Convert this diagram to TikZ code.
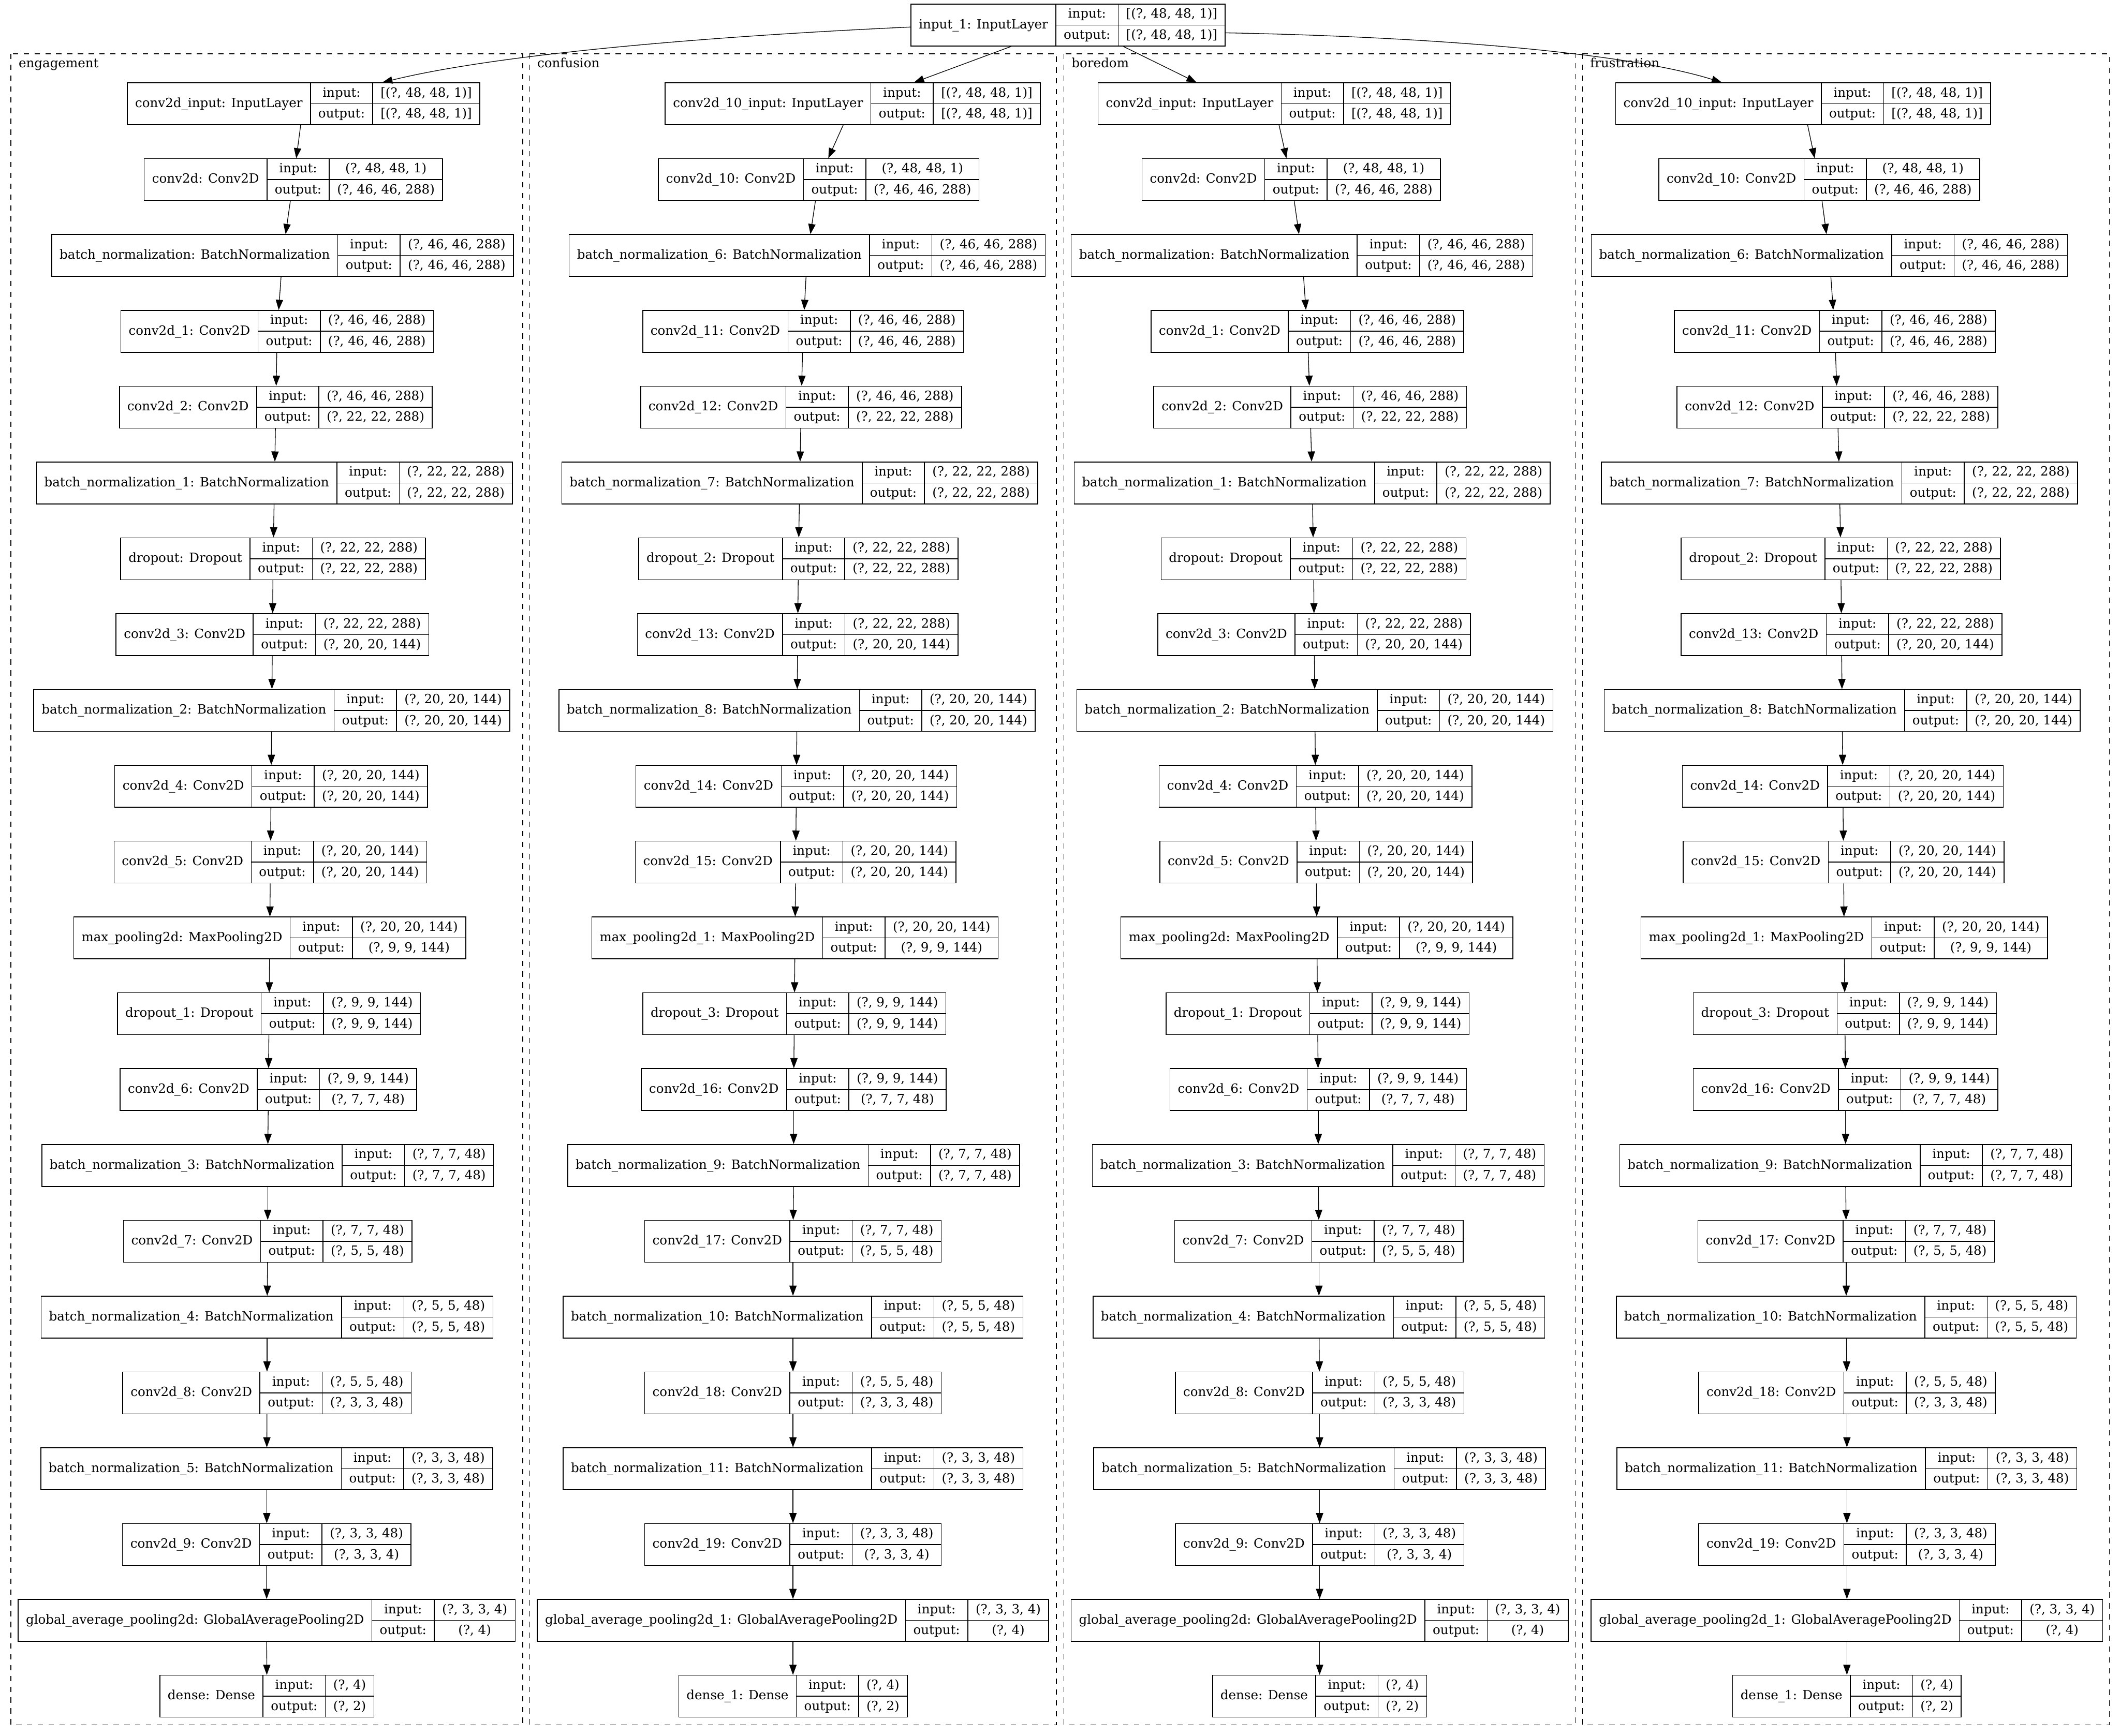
\documentclass[tikz,border=0pt]{standalone}
\usepackage{fontspec}
\setmainfont{DejaVu Serif}
\usetikzlibrary{arrows.meta}
\newlength\recwa \newlength\recwb \newlength\recwc \newlength\recwt
\newcommand\recfont{\fontsize{9.4pt}{11pt}\selectfont}
\def\recpad{5.8}
\newcommand\shpin[1]{\ifcase#1\relax [(?, 48, 48, 1)]\or (?, 48, 48, 1)\or (?, 46, 46, 288)\or (?, 46, 46, 288)\or (?, 46, 46, 288)\or (?, 22, 22, 288)\or (?, 22, 22, 288)\or (?, 22, 22, 288)\or (?, 20, 20, 144)\or (?, 20, 20, 144)\or (?, 20, 20, 144)\or (?, 20, 20, 144)\or (?, 9, 9, 144)\or (?, 9, 9, 144)\or (?, 7, 7, 48)\or (?, 7, 7, 48)\or (?, 5, 5, 48)\or (?, 5, 5, 48)\or (?, 3, 3, 48)\or (?, 3, 3, 48)\or (?, 3, 3, 4)\or (?, 4)\fi}
\newcommand\shpout[1]{\ifcase#1\relax [(?, 48, 48, 1)]\or (?, 46, 46, 288)\or (?, 46, 46, 288)\or (?, 46, 46, 288)\or (?, 22, 22, 288)\or (?, 22, 22, 288)\or (?, 22, 22, 288)\or (?, 20, 20, 144)\or (?, 20, 20, 144)\or (?, 20, 20, 144)\or (?, 20, 20, 144)\or (?, 9, 9, 144)\or (?, 9, 9, 144)\or (?, 7, 7, 48)\or (?, 7, 7, 48)\or (?, 5, 5, 48)\or (?, 5, 5, 48)\or (?, 3, 3, 48)\or (?, 3, 3, 48)\or (?, 3, 3, 4)\or (?, 4)\or (?, 2)\fi}
\tikzset{
  recbox/.style={draw, line width=0.6pt, minimum height=31pt, inner sep=0pt},
  recline/.style={line width=0.6pt},
  rectxt/.style={anchor=base, inner sep=0pt, font=\recfont},
  edge/.style={line width=0.5pt, -{Triangle[length=7.5pt,width=5.4pt]}},
  cluster/.style={line width=0.55pt, dash pattern=on 4pt off 4pt},
  clabel/.style={anchor=base west, inner sep=0pt, font=\recfont}
}
\newcommand\rec[6]{%
 \pgfinterruptpicture
  \settowidth\recwa{\recfont #4}\global\recwa=\recwa
  \settowidth\recwb{\recfont output:}\global\recwb=\recwb
  \settowidth\recwc{\recfont #5}%
  \settowidth\recwt{\recfont #6}%
  \ifdim\recwt>\recwc \recwc=\recwt\fi
  \global\recwc=\recwc
 \endpgfinterruptpicture
 \pgfmathsetmacro\recA{\recwa+2*\recpad}%
 \pgfmathsetmacro\recB{\recwb+2*\recpad}%
 \pgfmathsetmacro\recC{\recwc+2*\recpad}%
 \pgfmathsetmacro\recW{\recA+\recB+\recC}%
 \pgfmathsetmacro\recL{#2-\recW/2}%
 \pgfmathsetmacro\recXa{\recL+\recA}%
 \pgfmathsetmacro\recXb{\recXa+\recB}%
 \pgfmathsetmacro\recR{\recL+\recW}%
 \node[recbox, minimum width=\recW pt] (#1) at (#2,#3) {};
 \draw[recline] (\recXa,#3-15.5) -- (\recXa,#3+15.5);
 \draw[recline] (\recXb,#3-15.5) -- (\recXb,#3+15.5);
 \draw[recline] (\recXa,#3) -- (\recR,#3);
 \node[rectxt] at ({(\recL+\recXa)/2},#3+2.6) {#4};
 \node[rectxt] at ({(\recXa+\recXb)/2},#3-5.15) {input:};
 \node[rectxt] at ({(\recXa+\recXb)/2},#3+10.35) {output:};
 \node[rectxt] at ({(\recXb+\recR)/2},#3-5.15) {#5};
 \node[rectxt] at ({(\recXb+\recR)/2},#3+10.35) {#6};
}
\begin{document}
\begin{tikzpicture}[x=1pt,y=-1pt]
\fill[white] (0,0) rectangle (1568,1284.1);
\useasboundingbox (0,0) rectangle (1568,1284.1);
% clusters
\draw[cluster] (8.1,39.8) rectangle (386.6,1276);
\draw[cluster] (391.7,39.8) rectangle (781.3,1276);
\draw[cluster] (786.9,39.8) rectangle (1165.4,1276);
\draw[cluster] (1170.4,39.8) rectangle (1560.2,1276);
\node[clabel] (le) at (13.6,50) {engagement};
\node[clabel] (lc) at (397.2,50) {confusion};
\node[clabel] (lb) at (792.4,50) {boredom};
\node[clabel] (lf) at (1175.9,50) {frustration};
% top node
\rec{in1}{790}{18.5}{input\_1: InputLayer}{[(?, 48, 48, 1)]}{[(?, 48, 48, 1)]}
% engagement + boredom
\foreach \i/\ce/\cb/\lbl in {
 0/224.5/942.5/{conv2d\_input: InputLayer},
 1/217/955/{conv2d: Conv2D},
 2/209/963/{batch\_normalization: BatchNormalization},
 3/205/967/{conv2d\_1: Conv2D},
 4/204/969/{conv2d\_2: Conv2D},
 5/203/970.5/{batch\_normalization\_1: BatchNormalization},
 6/202/971.5/{dropout: Dropout},
 7/201.5/972/{conv2d\_3: Conv2D},
 8/201/972.5/{batch\_normalization\_2: BatchNormalization},
 9/200.5/973/{conv2d\_4: Conv2D},
 10/200/973.5/{conv2d\_5: Conv2D},
 11/199.5/974/{max\_pooling2d: MaxPooling2D},
 12/199/974.5/{dropout\_1: Dropout},
 13/198.5/975/{conv2d\_6: Conv2D},
 14/198/975/{batch\_normalization\_3: BatchNormalization},
 15/198/975.5/{conv2d\_7: Conv2D},
 16/197.5/975.5/{batch\_normalization\_4: BatchNormalization},
 17/197.5/976/{conv2d\_8: Conv2D},
 18/197.3/976/{batch\_normalization\_5: BatchNormalization},
 19/197.3/976/{conv2d\_9: Conv2D},
 20/197.2/976/{global\_average\_pooling2d: GlobalAveragePooling2D},
 21/197.4/976/{dense: Dense}}{
 \pgfmathsetmacro\cy{76.8+56.1*\i}
 \rec{e\i}{\ce}{\cy}{\lbl}{\shpin{\i}}{\shpout{\i}}
 \rec{b\i}{\cb}{\cy}{\lbl}{\shpin{\i}}{\shpout{\i}}
}
% confusion + frustration
\foreach \i/\cc/\cf/\lbl in {
 0/630.7/1333.6/{conv2d\_10\_input: InputLayer},
 1/605.5/1345.5/{conv2d\_10: Conv2D},
 2/597/1353/{batch\_normalization\_6: BatchNormalization},
 3/594/1357/{conv2d\_11: Conv2D},
 4/592.5/1359/{conv2d\_12: Conv2D},
 5/591.5/1360.5/{batch\_normalization\_7: BatchNormalization},
 6/590.5/1361.5/{dropout\_2: Dropout},
 7/590/1362/{conv2d\_13: Conv2D},
 8/589.5/1362.5/{batch\_normalization\_8: BatchNormalization},
 9/589/1363/{conv2d\_14: Conv2D},
 10/588.5/1363.5/{conv2d\_15: Conv2D},
 11/588/1364/{max\_pooling2d\_1: MaxPooling2D},
 12/587.5/1364.5/{dropout\_3: Dropout},
 13/587/1365/{conv2d\_16: Conv2D},
 14/587/1365/{batch\_normalization\_9: BatchNormalization},
 15/586.5/1365.5/{conv2d\_17: Conv2D},
 16/586.5/1365.5/{batch\_normalization\_10: BatchNormalization},
 17/586.5/1366/{conv2d\_18: Conv2D},
 18/586.5/1366/{batch\_normalization\_11: BatchNormalization},
 19/586.5/1366/{conv2d\_19: Conv2D},
 20/586.5/1366/{global\_average\_pooling2d\_1: GlobalAveragePooling2D},
 21/586.5/1366/{dense\_1: Dense}}{
 \pgfmathsetmacro\cy{76.8+56.1*\i}
 \rec{c\i}{\cc}{\cy}{\lbl}{\shpin{\i}}{\shpout{\i}}
 \rec{f\i}{\cf}{\cy}{\lbl}{\shpin{\i}}{\shpout{\i}}
}
% chain edges
\foreach \i in {0,...,20}{
 \pgfmathtruncatemacro\j{\i+1}
 \draw[edge] (e\i) -- (e\j);
 \draw[edge] (c\i) -- (c\j);
 \draw[edge] (b\i) -- (b\j);
 \draw[edge] (f\i) -- (f\j);
}
% edges from the top input
\draw[edge] ([yshift=-1.5pt]in1.west) .. controls (500,28) and (360,42) .. ([xshift=58.3pt]e0.north);
\draw[edge] ([xshift=-42pt]in1.south) -- ([xshift=45.3pt]c0.north);
\draw[edge] ([xshift=40.7pt]in1.south) -- ([xshift=-57.5pt]b0.north);
\draw[edge] ([yshift=-5.8pt]in1.east) .. controls (1050,27) and (1200,38) .. ([xshift=-60.1pt]f0.north);
\end{tikzpicture}
\end{document}
